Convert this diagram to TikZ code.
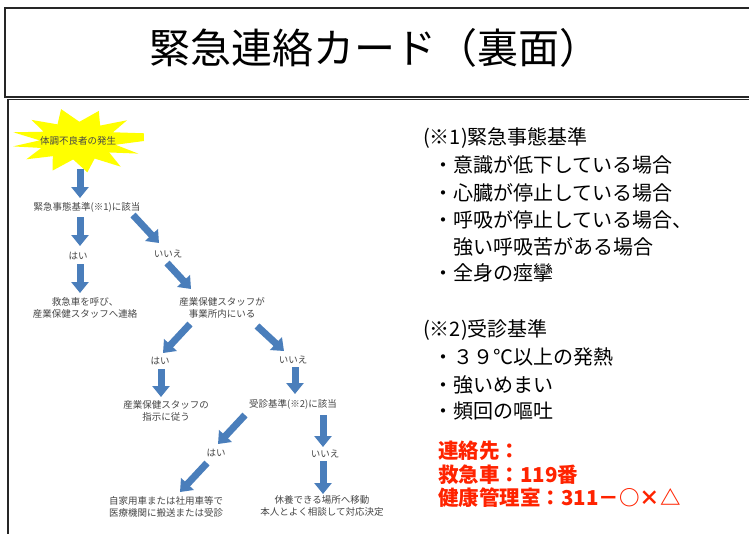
\documentclass[tikz,border=0pt]{standalone}
\usepackage{fontspec}
\newfontfamily\jp{Noto Sans CJK JP}
\usetikzlibrary{arrows.meta,calc}
\definecolor{arrowblue}{RGB}{74,126,187}
\definecolor{smalltext}{RGB}{70,70,70}
\definecolor{redtext}{RGB}{255,35,0}
\definecolor{burstyellow}{RGB}{255,255,0}
\tikzset{
  frameline/.style={draw=black!85,line width=1.3pt},
  small/.style={font=\jp\fontsize{9.5}{12}\selectfont,text=smalltext,align=center,inner sep=0pt},
  bigtext/.style={font=\jp\fontsize{20}{24}\selectfont,text=black,anchor=west,inner sep=0pt},
  redline/.style={font=\jp\bfseries\fontsize{20.5}{24}\selectfont,text=redtext,anchor=west,inner sep=0pt},
  barrow/.style={draw=arrowblue,line width=7pt,-{Triangle[width=17pt,length=11pt]}},
}
\begin{document}
\begin{tikzpicture}[x=1pt,y=-1pt]
\useasboundingbox (0,0) rectangle (749,533);
\fill[white] (0,0) rectangle (749,533);
% frames
\draw[frameline] (760,8) -- (5,8) -- (5,97) -- (760,97);
\draw[frameline] (760,99.5) -- (8,99.5) -- (8,545);
\node[font=\jp\fontsize{41}{48}\selectfont,inner sep=0pt] (title) at (375,48) {緊急連絡カード（裏面）};

% flowchart: starburst
\coordinate (bc) at (78,141);
\fill[burstyellow] ($(bc)+(0:66 and 31)$)
  \foreach \a/\r in {12/0.58, 24/1.00, 38/0.60, 52/1.05, 66/0.62, 82/1.02, 97/0.60,
                     112/1.03, 128/0.62, 143/0.98, 158/0.60, 170/1.00,
                     182/0.58, 196/1.02, 210/0.60, 224/0.98, 240/0.62, 256/1.06,
                     272/0.62, 288/1.02, 304/0.60, 318/1.0, 332/0.60, 346/1.03} {
    -- ($(bc)+(\a:{66*\r} and {31*\r})$)
  } -- cycle;
\node[small] (start) at (bc) {体調不良者の発生};
\node[small] (q1) at (87,207) {緊急事態基準(※1)に該当};
\node[small] (yes1) at (78,256) {はい};
\node[small] (no1) at (168,254) {いいえ};
\node[small] (call) at (85,308) {救急車を呼び、\\産業保健スタッフへ連絡};
\node[small] (staff) at (222,308) {産業保健スタッフが\\事業所内にいる};
\node[small] (yes2) at (160,361) {はい};
\node[small] (no2) at (293,360) {いいえ};
\node[small] (follow) at (166,411) {産業保健スタッフの\\指示に従う};
\node[small] (q2) at (293,404) {受診基準(※2)に該当};
\node[small] (yes3) at (216,453) {はい};
\node[small] (no3) at (325,454) {いいえ};
\node[small] (car) at (166,507) {自家用車または社用車等で\\医療機関に搬送または受診};
\node[small] (rest) at (322,506) {休養できる場所へ移動\\本人とよく相談して対応決定};

% arrow end points
\coordinate (a1s) at (80,169);  \coordinate (a1e) at (80,198);
\coordinate (a2s) at (80,217);  \coordinate (a2e) at (80,246);
\coordinate (a3s) at (133,215); \coordinate (a3e) at (159,243);
\coordinate (a4s) at (80,264);  \coordinate (a4e) at (80,293);
\coordinate (a5s) at (167,263); \coordinate (a5e) at (191,289);
\coordinate (a6s) at (190,324); \coordinate (a6e) at (163,353);
\coordinate (a7s) at (257,326); \coordinate (a7e) at (284,351);
\coordinate (a8s) at (161,369); \coordinate (a8e) at (161,397);
\coordinate (a9s) at (295,367); \coordinate (a9e) at (295,394);
\coordinate (a10s) at (245,415); \coordinate (a10e) at (218,444);
\coordinate (a11s) at (323,415); \coordinate (a11e) at (323,447);
\coordinate (a12s) at (207,463); \coordinate (a12e) at (180,492);
\coordinate (a13s) at (323,461); \coordinate (a13e) at (323,494);
\foreach \i in {1,...,13} {\draw[barrow] (a\i s) -- (a\i e);}

% right side text
\node[bigtext] (c1h) at (423,138) {(※1)緊急事態基準};
\node[bigtext] (c1a) at (433,165) {・意識が低下している場合};
\node[bigtext] (c1b) at (433,193) {・心臓が停止している場合};
\node[bigtext] (c1c) at (433,220) {・呼吸が停止している場合、};
\node[bigtext] (c1d) at (453,247) {強い呼吸苦がある場合};
\node[bigtext] (c1e) at (433,273) {・全身の痙攣};
\node[bigtext] (c2h) at (423,330) {(※2)受診基準};
\node[bigtext] (c2a) at (433,357) {・３９℃以上の発熱};
\node[bigtext] (c2b) at (433,385) {・強いめまい};
\node[bigtext] (c2c) at (433,411) {・頻回の嘔吐};
\node[redline] (r1) at (438,451) {連絡先：};
\node[redline] (r2) at (438,475) {救急車：119番};
\node[redline] (r3) at (438,498) {健康管理室：311－○×△};
\end{tikzpicture}
\end{document}
